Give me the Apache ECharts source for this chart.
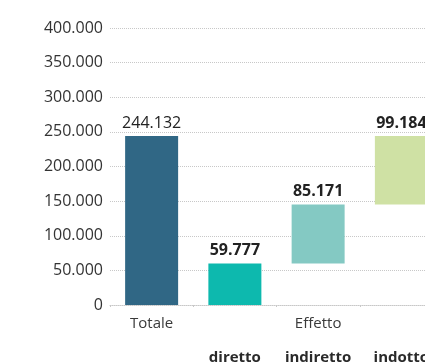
<!DOCTYPE html>
<html>
<head>
<meta charset="utf-8">
<script src="https://cdn.jsdelivr.net/npm/echarts@6/dist/echarts.min.js"></script>
<style>
html,body{margin:0;padding:0;background:#fff;overflow:hidden;width:425px;height:362px;}
#chart{width:443px;height:362px;}
</style>
</head>
<body>
<div id="chart"></div>
<script>
var categories = ["Totale", "diretto", "indiretto", "indotto"];
var topLabels = ["Totale", "", "Effetto", ""];
var bottomLabels = ["", "diretto", "indiretto", "indotto"];
var values = [244132, 59777, 85171, 99184];
var bases = [0, 0, 59777, 144948];
var colors = ["#306785", "#0db9ae", "#84c9c3", "#cfe1a4"];
var boldLabel = [false, true, true, true];
var yTicks = [0, 50000, 100000, 150000, 200000, 250000, 300000, 350000, 400000];

function fmt(v) {
  return String(v).replace(/\B(?=(\d{3})+(?!\d))/g, ".");
}

var FONT = "Open Sans";
var chart = echarts.init(document.getElementById("chart"));
chart.setOption({
  animation: false,
  grid: { left: 110, top: 28, right: 0, bottom: 57, containLabel: false, outerBoundsMode: "none" },
  xAxis: {
    type: "category",
    data: categories,
    axisLine: { lineStyle: { color: "#c8c8c8", type: "dotted", width: 1 } },
    axisTick: { show: true, length: 2, lineStyle: { color: "#c8c8c8" } },
    axisLabel: {
      margin: 2,
      interval: 0,
      formatter: function (v, i) {
        return "{a|" + (topLabels[i] || " ") + "}\n{b|" + (bottomLabels[i] || " ") + "}";
      },
      rich: {
        a: { fontFamily: FONT, fontSize: 15, color: "#3a3a3a", lineHeight: 34 },
        b: { fontFamily: FONT, fontSize: 15, fontWeight: "bold", color: "#2a2a2a", lineHeight: 34 }
      }
    }
  },
  yAxis: {
    type: "value",
    min: yTicks[0],
    max: yTicks[yTicks.length - 1],
    interval: yTicks[1] - yTicks[0],
    axisLine: { show: false },
    axisTick: { show: false },
    splitLine: { lineStyle: { color: "#c8c8c8", type: "dotted", width: 1 } },
    axisLabel: {
      margin: 7,
      fontFamily: FONT,
      fontSize: 16,
      color: "#333",
      formatter: function (v) { return fmt(v); }
    }
  },
  series: [
    {
      type: "bar",
      stack: "w",
      barWidth: 53,
      itemStyle: { color: "transparent" },
      emphasis: { disabled: true },
      data: bases
    },
    {
      type: "bar",
      stack: "w",
      barWidth: 53,
      data: values.map(function (v, i) {
        return {
          value: v,
          itemStyle: { color: colors[i] },
          label: { fontWeight: boldLabel[i] ? "bold" : "normal" }
        };
      }),
      label: {
        show: true,
        position: "top",
        distance: 5,
        fontFamily: FONT,
        fontSize: 16,
        color: "#222",
        formatter: function (p) { return fmt(p.value); }
      }
    }
  ]
});
</script>
</body>
</html>
